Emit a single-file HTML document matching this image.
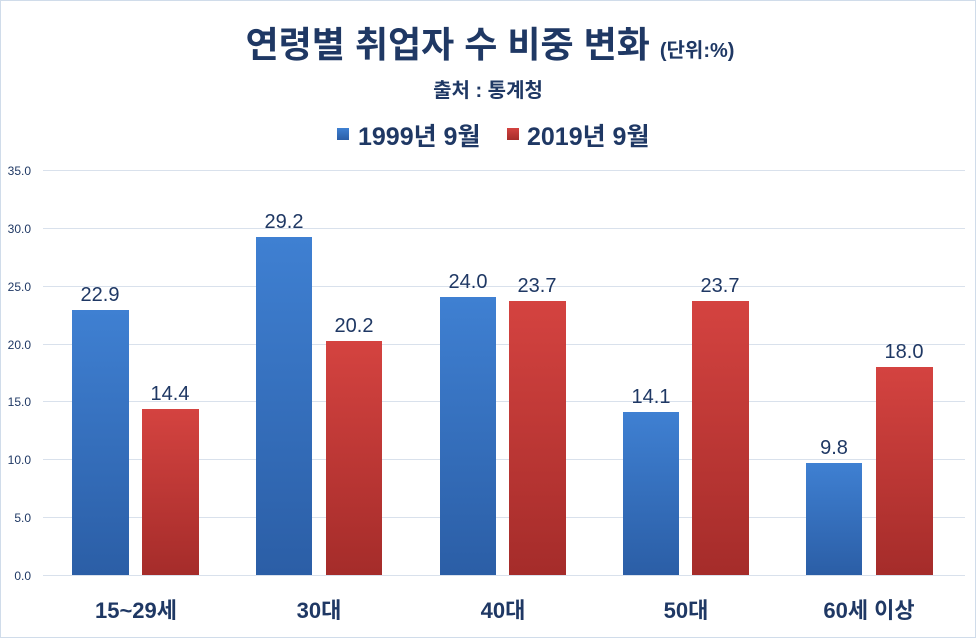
<!DOCTYPE html>
<html><head><meta charset="utf-8"><style>
html,body{margin:0;padding:0;background:#fff}
svg{display:block}
text{font-family:"Liberation Sans","Noto Sans CJK KR",sans-serif;fill:#1f3864}
</style></head><body>
<svg width="976" height="638" viewBox="0 0 976 638" xmlns="http://www.w3.org/2000/svg">
<defs>
<linearGradient id="b" x1="0" y1="0" x2="0" y2="1"><stop offset="0" stop-color="#3f80d2"/><stop offset="1" stop-color="#2b5ea6"/></linearGradient>
<linearGradient id="r" x1="0" y1="0" x2="0" y2="1"><stop offset="0" stop-color="#d44340"/><stop offset="1" stop-color="#a52c2a"/></linearGradient>
</defs>
<rect x="0.5" y="0.5" width="975" height="637" fill="#fff" stroke="#d0dcea"/>
<text x="490" y="57" text-anchor="middle" font-size="36" font-weight="bold">연령별 취업자 수 비중 변화 <tspan font-size="20">(단위:%)</tspan></text>
<text x="488" y="97" text-anchor="middle" font-size="20" font-weight="bold">출처 : 통계청</text>
<rect x="337" y="128" width="12" height="12" fill="url(#b)"/>
<text x="358" y="145" font-size="25" font-weight="bold">1999년 9월</text>
<rect x="507" y="128" width="12" height="12" fill="url(#r)"/>
<text x="527" y="145" font-size="25" font-weight="bold">2019년 9월</text>
<g stroke="#d9e1ec" stroke-width="1">
<line x1="43" x2="965" y1="170.5" y2="170.5"/><line x1="43" x2="965" y1="228.5" y2="228.5"/>
<line x1="43" x2="965" y1="286.5" y2="286.5"/><line x1="43" x2="965" y1="344.5" y2="344.5"/>
<line x1="43" x2="965" y1="401.5" y2="401.5"/><line x1="43" x2="965" y1="459.5" y2="459.5"/>
<line x1="43" x2="965" y1="517.5" y2="517.5"/><line x1="43" x2="965" y1="575.5" y2="575.5"/>
</g>
<g font-size="12" text-anchor="end">
<text x="31" y="175">35.0</text><text x="31" y="233">30.0</text><text x="31" y="291">25.0</text>
<text x="31" y="349">20.0</text><text x="31" y="406">15.0</text><text x="31" y="464">10.0</text>
<text x="31" y="522">5.0</text><text x="31" y="580">0.0</text>
</g>
<rect x="72" y="310" width="57" height="265" fill="url(#b)"/>
<rect x="142" y="409" width="57" height="166" fill="url(#r)"/>
<rect x="256" y="237" width="56" height="338" fill="url(#b)"/>
<rect x="326" y="341" width="56" height="234" fill="url(#r)"/>
<rect x="440" y="297" width="56" height="278" fill="url(#b)"/>
<rect x="509" y="301" width="57" height="274" fill="url(#r)"/>
<rect x="623" y="412" width="56" height="163" fill="url(#b)"/>
<rect x="692" y="301" width="57" height="274" fill="url(#r)"/>
<rect x="806" y="463" width="56" height="112" fill="url(#b)"/>
<rect x="876" y="367" width="57" height="208" fill="url(#r)"/>
<g font-size="20" text-anchor="middle">
<text x="100" y="301">22.9</text><text x="170" y="400">14.4</text>
<text x="284" y="228">29.2</text><text x="354" y="332">20.2</text>
<text x="468" y="288">24.0</text><text x="537" y="292">23.7</text>
<text x="651" y="403">14.1</text><text x="720" y="292">23.7</text>
<text x="834" y="454">9.8</text><text x="904" y="358">18.0</text>
</g>
<g font-size="22" font-weight="bold" text-anchor="middle">
<text x="136" y="618">15~29세</text><text x="319" y="618">30대</text>
<text x="503" y="618">40대</text><text x="686" y="618">50대</text>
<text x="869" y="618">60세 이상</text>
</g>
</svg>
</body></html>
